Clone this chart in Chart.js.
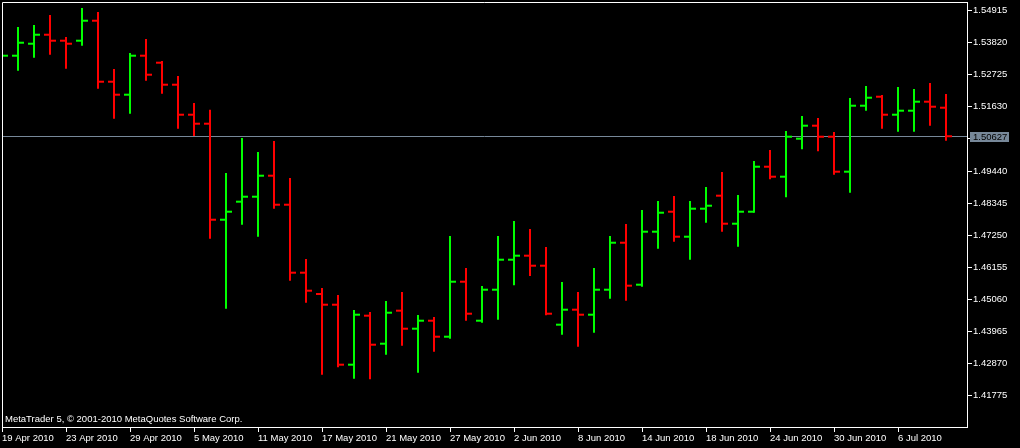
<!DOCTYPE html>
<html><head><meta charset="utf-8">
<script src="https://cdn.jsdelivr.net/npm/chart.js@4"></script>
<style>html,body{margin:0;padding:0;background:#000;overflow:hidden}#wrap{width:1020px;height:448px;position:relative}</style>
</head><body><div id="wrap"><canvas id="c" width="1020" height="448"></canvas></div>
<script>
const dates = ['19 Apr 2010','20 Apr 2010','21 Apr 2010','22 Apr 2010','23 Apr 2010','26 Apr 2010','27 Apr 2010','28 Apr 2010','29 Apr 2010','30 Apr 2010',
'3 May 2010','4 May 2010','5 May 2010','6 May 2010','7 May 2010','10 May 2010','11 May 2010','12 May 2010','13 May 2010','14 May 2010',
'17 May 2010','18 May 2010','19 May 2010','20 May 2010','21 May 2010','24 May 2010','25 May 2010','26 May 2010','27 May 2010','28 May 2010',
'31 May 2010','1 Jun 2010','2 Jun 2010','3 Jun 2010','4 Jun 2010','7 Jun 2010','8 Jun 2010','9 Jun 2010','10 Jun 2010','11 Jun 2010',
'14 Jun 2010','15 Jun 2010','16 Jun 2010','17 Jun 2010','18 Jun 2010','21 Jun 2010','22 Jun 2010','23 Jun 2010','24 Jun 2010','25 Jun 2010',
'28 Jun 2010','29 Jun 2010','30 Jun 2010','1 Jul 2010','2 Jul 2010','5 Jul 2010','6 Jul 2010','7 Jul 2010','8 Jul 2010','9 Jul 2010'];

const opens = [1.53297,1.53376,1.53785,1.54092,1.53888,1.53888,1.54570,1.52488,1.52045,1.53376,
1.53137,1.52386,1.51362,1.51055,1.47778,1.48393,1.48563,1.49280,1.48290,1.45970,
1.45243,1.44877,1.42830,1.44502,1.43546,1.44673,1.44058,1.44331,1.43785,1.45662,
1.44331,1.45389,1.46413,1.46550,1.46208,1.44195,1.44707,1.44536,1.45389,1.46993,
1.45560,1.47369,1.48051,1.47198,1.48154,1.48598,1.47642,1.48051,1.49587,1.49246,
1.50543,1.50987,1.50611,1.49417,1.51669,1.51976,1.51362,1.51499,1.51806,1.51601];

const highs = [1.53570,1.54355,1.54424,1.54765,1.54014,1.55004,1.54867,1.52922,1.53468,1.53946,
1.53195,1.52683,1.51761,1.51533,1.49372,1.50567,1.50089,1.50464,1.49202,1.46437,
1.45447,1.45208,1.44696,1.44628,1.45004,1.45311,1.44526,1.44458,1.47222,1.46130,
1.45516,1.47222,1.47734,1.47461,1.46847,1.45652,1.45311,1.46130,1.47222,1.47632,
1.48109,1.48417,1.48587,1.48417,1.48894,1.49406,1.48621,1.49782,1.50157,1.50806,
1.51318,1.51249,1.50772,1.51932,1.52342,1.52034,1.52307,1.52239,1.52444,1.52069];

const lows = [1.53161,1.52864,1.53307,1.53410,1.52932,1.53717,1.52249,1.51226,1.51396,1.52522,
1.52079,1.50884,1.50635,1.47130,1.44741,1.47608,1.47198,1.48154,1.45696,1.44946,
1.42488,1.42741,1.42352,1.42331,1.43171,1.43478,1.42557,1.43273,1.43717,1.44331,
1.44263,1.44365,1.45539,1.45857,1.44516,1.43853,1.43444,1.43922,1.45082,1.45014,
1.45492,1.46789,1.47028,1.46413,1.47676,1.47369,1.46857,1.48017,1.49157,1.48543,
1.50181,1.50113,1.49314,1.48700,1.51499,1.50884,1.50782,1.50782,1.50987,1.50475];

const closes = [1.53376,1.53819,1.54092,1.53888,1.53785,1.54570,1.52488,1.52045,1.53376,1.52727,
1.52386,1.51362,1.51055,1.47778,1.48051,1.48563,1.49280,1.48290,1.45970,1.45355,
1.44877,1.42830,1.44536,1.43512,1.44604,1.44058,1.44331,1.43785,1.45662,1.44570,
1.45389,1.46413,1.46550,1.46208,1.44570,1.44707,1.44536,1.45389,1.46993,1.45526,
1.47369,1.48017,1.47198,1.48154,1.48256,1.47642,1.48051,1.49587,1.49246,1.50611,
1.50987,1.50611,1.49417,1.51669,1.51942,1.51362,1.51499,1.51806,1.51635,1.50627];

const yTickValues = [1.41775,1.42870,1.43965,1.45060,1.46155,1.47250,1.48345,1.49440,1.50535,1.51630,1.52725,1.53820,1.54915];
const xTickIndices = [0,4,8,12,16,20,24,28,32,36,40,44,48,52,56];
const currentPrice = 1.50627;
const yMin = 1.40703, yMax = 1.55209;
const xMin = 0, xMax = 60.3125;
const watermark = 'MetaTrader 5, \u00A9 2001-2010 MetaQuotes Software Corp.';

const BULL = '#00ff00', BEAR = '#ff0000', LINE = '#778899';
const FONT_FAMILY = "'Liberation Sans', Arial, sans-serif";
const FONT_SIZE = 9.5;
const barColors = closes.map((c, i) => c >= opens[i] ? BULL : BEAR);

const overlay = {
  id: 'overlay',
  beforeDatasetsDraw(chart) {
    const {ctx, chartArea: a, scales: {y}} = chart;
    const py = Math.round(y.getPixelForValue(currentPrice)) + 0.5;
    ctx.save();
    ctx.strokeStyle = LINE; ctx.lineWidth = 1;
    ctx.beginPath(); ctx.moveTo(a.left, py); ctx.lineTo(a.right, py); ctx.stroke();
    ctx.restore();
  },
  afterDraw(chart) {
    const {ctx, chartArea: a, scales: {y}} = chart;
    ctx.save();
    ctx.strokeStyle = '#ffffff'; ctx.lineWidth = 1;
    ctx.beginPath();
    ctx.moveTo(a.left + 0.5, a.bottom); ctx.lineTo(a.left + 0.5, a.top + 0.5); ctx.lineTo(a.right, a.top + 0.5);
    ctx.stroke();
    ctx.fillStyle = '#ffffff';
    ctx.font = FONT_SIZE + 'px ' + FONT_FAMILY;
    ctx.textBaseline = 'alphabetic'; ctx.textAlign = 'left';
    ctx.fillText(watermark, a.left + 3, a.bottom - 5);
    const py = Math.round(y.getPixelForValue(currentPrice));
    ctx.fillStyle = LINE;
    ctx.fillRect(a.right + 3, py - 4, 39, 10);
    ctx.fillStyle = '#000000';
    ctx.textBaseline = 'middle';
    ctx.fillText(currentPrice.toFixed(5), a.right + 6, py + 1);
    ctx.restore();
  }
};

new Chart(document.getElementById('c'), {
  type: 'bar',
  data: {
    datasets: [
      {
        type: 'bar',
        data: dates.map((d, i) => ({x: i, y: [lows[i], highs[i]]})),
        backgroundColor: barColors,
        borderWidth: 0,
        barThickness: 2,
        inflateAmount: 0,
        clip: 0
      },
      {
        type: 'line',
        showLine: false,
        data: dates.map((d, i) => ({x: i, y: opens[i]})),
        pointStyle: 'dash',
        rotation: 180,
        pointRadius: 6,
        pointBorderWidth: 2,
        pointBorderColor: barColors,
        pointBackgroundColor: barColors,
        clip: 0
      },
      {
        type: 'line',
        showLine: false,
        data: dates.map((d, i) => ({x: i, y: closes[i]})),
        pointStyle: 'dash',
        rotation: 0,
        pointRadius: 6,
        pointBorderWidth: 2,
        pointBorderColor: barColors,
        pointBackgroundColor: barColors,
        clip: 0
      }
    ]
  },
  options: {
    responsive: false,
    animation: false,
    devicePixelRatio: 1,
    layout: {autoPadding: false, padding: {left: 2, top: 2, right: 0, bottom: 0}},
    plugins: {legend: {display: false}, tooltip: {enabled: false}},
    events: [],
    scales: {
      x: {
        type: 'linear',
        offset: false,
        min: xMin, max: xMax,
        afterBuildTicks: s => { s.ticks = xTickIndices.map(v => ({value: v})); },
        afterFit: s => { s.height = 21; s.paddingLeft = 0; s.paddingRight = 0; },
        ticks: {
          autoSkip: false, maxRotation: 0, minRotation: 0, align: 'start', padding: 1,
          color: '#ffffff', font: {family: FONT_FAMILY, size: FONT_SIZE},
          callback: v => dates[v] || ''
        },
        grid: {offset: false, drawOnChartArea: false, drawTicks: true, tickLength: 5, tickColor: '#ffffff', color: '#ffffff'},
        border: {display: true, color: '#ffffff', width: 1}
      },
      y: {
        position: 'right',
        min: yMin, max: yMax,
        afterBuildTicks: s => { s.ticks = yTickValues.map(v => ({value: v})); },
        afterFit: s => { s.width = 53; s.paddingTop = 0; s.paddingBottom = 0; },
        ticks: {
          padding: 1, color: '#ffffff', font: {family: FONT_FAMILY, size: FONT_SIZE},
          callback: v => Number(v).toFixed(5)
        },
        grid: {drawOnChartArea: false, drawTicks: true, tickLength: 5, tickColor: '#ffffff', color: '#ffffff'},
        border: {display: true, color: '#ffffff', width: 1}
      }
    }
  },
  plugins: [overlay]
});
</script>
</body></html>
